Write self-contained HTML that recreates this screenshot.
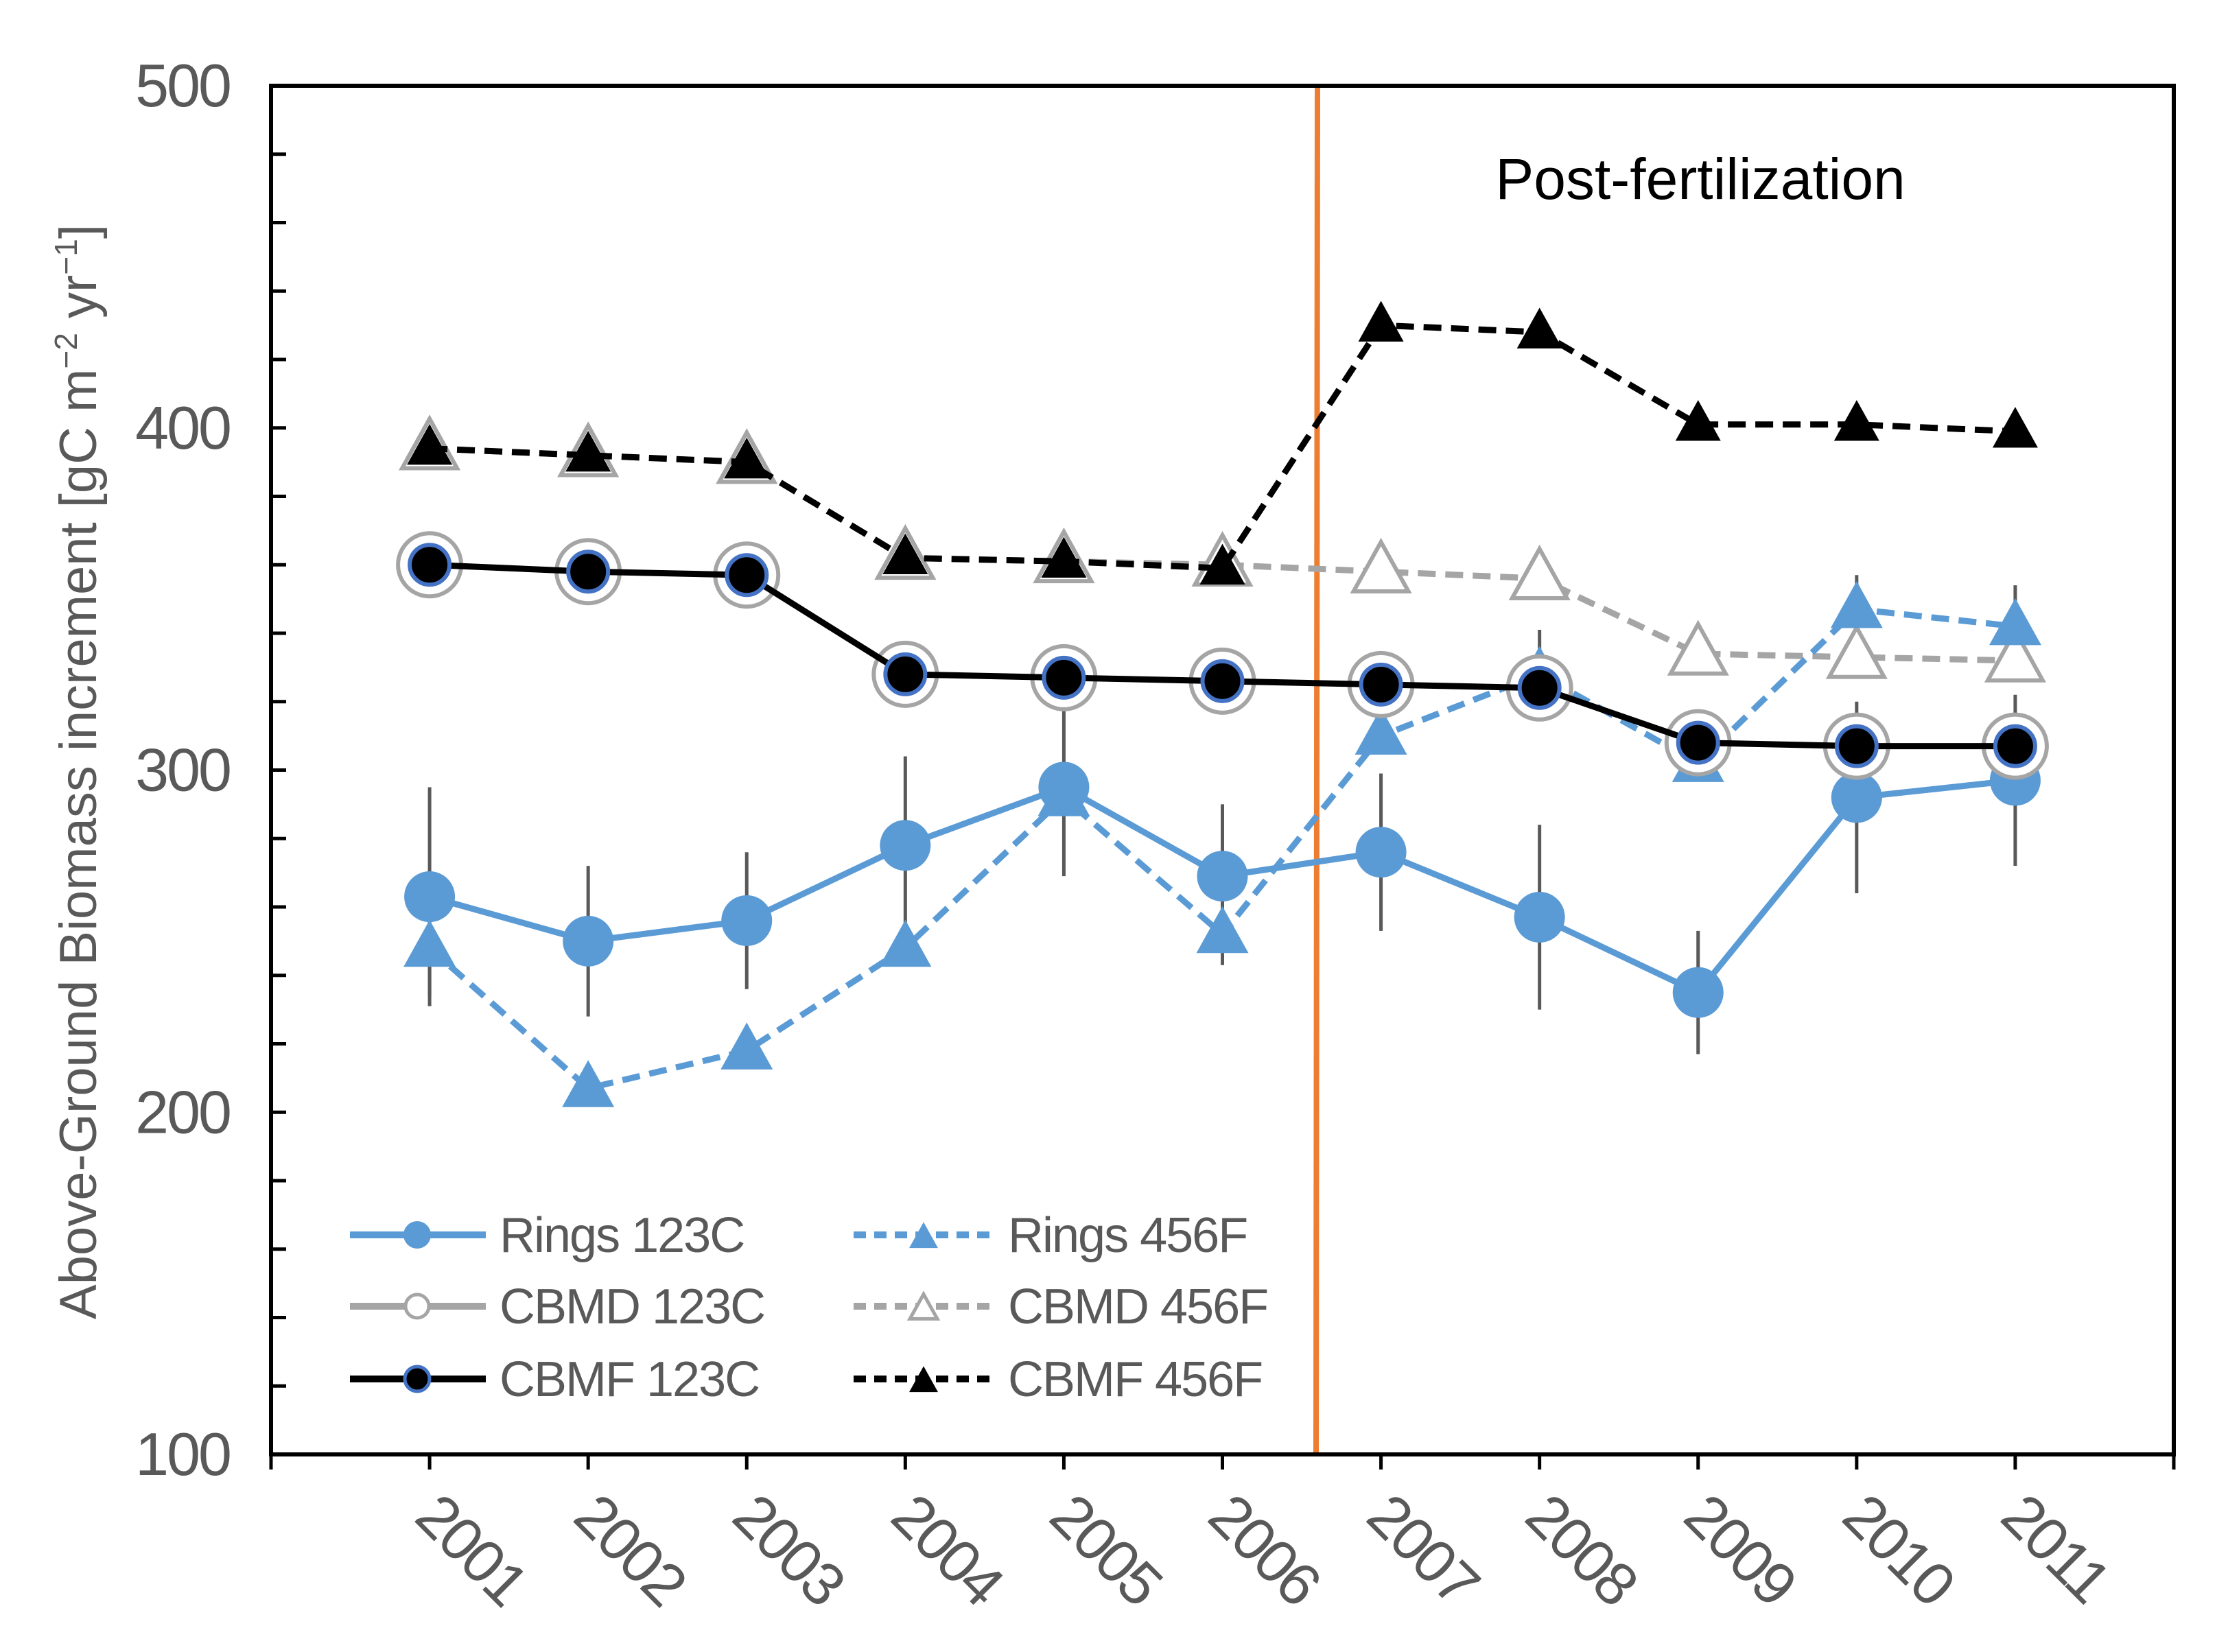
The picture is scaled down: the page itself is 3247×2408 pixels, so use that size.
<!DOCTYPE html>
<html><head><meta charset="utf-8"><style>
html,body{margin:0;padding:0;background:#fff;}
svg{display:block;font-family:"Liberation Sans",sans-serif;}
</style></head><body>
<svg id="chart" width="3247" height="2408" viewBox="0 0 3247 2408" xmlns="http://www.w3.org/2000/svg">
<g id="marks"></g>
</svg>
<script>
const years = ["2001","2002","2003","2004","2005","2006","2007","2008","2009","2010","2011"];
const rings123C = [263,250,256,278,295,269,276,257,235,292,297];
const rings123CErr = [32,22,20,26,26,21,23,27,18,28,25];
const rings456F = [248,207,218,248,292,252,310,328,302,347,342];
const rings456FErr = [14,0,0,0,0,9,0,13,0,10,12];
const cbmd123C = [360,358,357,328,327,326,325,324,308,307,307];
const cbmd456F = [394,392,390,362,361,360,358,356,334,333,332];
const cbmf123C = [360,358,357,328,327,326,325,324,308,307,307];
const cbmf456F = [394,392,390,362,361,359,430,428,401,401,399];
const yTicks = [100,200,300,400,500];
const legendLabels = ["Rings 123C","Rings 456F","CBMD 123C","CBMD 456F","CBMF 123C","CBMF 456F"];

const NS="http://www.w3.org/2000/svg";
const L=395,R=3168,T=125,B=2120;
const slot=(R-L)/12;
const xs=i=>L+slot*(i+1);
const ys=v=>B-(v-100)/400*(B-T);
const svg=document.getElementById('marks');
function mk(tag,attrs,parent){const e=document.createElementNS(NS,tag);for(const k in attrs)e.setAttribute(k,attrs[k]);(parent||svg).appendChild(e);return e;}
function tri(cx,cy,s){const h=s*0.9;return `${cx},${cy-h*0.6} ${cx-s/2},${cy+h*0.4} ${cx+s/2},${cy+h*0.4}`;}
const BLUE="#5b9bd5",GRAY="#a5a5a5",TXT="#595959";

for(let v=100;v<=500;v+=20){
  const t=mk('line',{x1:L,x2:L+22,y1:ys(v),y2:ys(v),stroke:'#000','stroke-width':5});
  
  
}
yTicks.forEach(v=>{
  const t=mk('text',{x:L-60,y:ys(v)+30,'text-anchor':'end','font-size':88,fill:TXT,'letter-spacing':'-3'});
  t.textContent=v;
  
  
});
for(let i=0;i<=12;i++){
  const x=L+slot*i;
  const t=mk('line',{x1:x,x2:x,y1:B,y2:B+22,stroke:'#000','stroke-width':5});
  
  
}
years.forEach((y,i)=>{
  const t=mk('text',{x:0,y:0,'font-size':88,fill:TXT,'letter-spacing':'-3',transform:`translate(${xs(i)-25},${B+95}) rotate(45)`});
  t.textContent=y;
  
  
});
const at=mk('text',{x:0,y:0,'font-size':76,fill:TXT,'text-anchor':'middle',transform:`translate(140,1125) rotate(-90)`});
at.innerHTML='Above-Ground Biomass increment  [gC m<tspan font-size="46" dy="-28">−2</tspan><tspan dy="28"> yr</tspan><tspan font-size="46" dy="-28">−1</tspan><tspan dy="28">]</tspan>';



const ol=mk('line',{x1:1920,x2:1918,y1:T,y2:B,stroke:'#ed7d31','stroke-width':8});


const pf=mk('text',{x:2478,y:290,'text-anchor':'middle','font-size':84,fill:'#000'});
pf.textContent='Post-fertilization';



function pts(arr){return arr.map((v,i)=>`${xs(i)},${ys(v)}`).join(' ');}
rings123C.forEach((v,i)=>{
  if(!rings123CErr[i])return;
  const e=mk('line',{x1:xs(i),x2:xs(i),y1:ys(v+rings123CErr[i]),y2:ys(v-rings123CErr[i]),stroke:'#595959','stroke-width':5});
  
  
});
rings456F.forEach((v,i)=>{
  if(!rings456FErr[i])return;
  const e=mk('line',{x1:xs(i),x2:xs(i),y1:ys(v+rings456FErr[i]),y2:ys(v-rings456FErr[i]),stroke:'#595959','stroke-width':5});
  
  
});

let p=mk('polyline',{points:pts(cbmd456F),fill:'none',stroke:GRAY,'stroke-width':9,'stroke-dasharray':'26,14'});


cbmd456F.forEach((v,i)=>{const m=mk('polygon',{points:tri(xs(i),ys(v),80),fill:'#fff',stroke:GRAY,'stroke-width':6});

});
p=mk('polyline',{points:pts(cbmf456F),fill:'none',stroke:'#000','stroke-width':9,'stroke-dasharray':'26,14'});


cbmf456F.forEach((v,i)=>{const m=mk('polygon',{points:tri(xs(i),ys(v),66),fill:'#000'});

});
p=mk('polyline',{points:pts(rings456F),fill:'none',stroke:BLUE,'stroke-width':9,'stroke-dasharray':'26,14'});


rings456F.forEach((v,i)=>{const m=mk('polygon',{points:tri(xs(i),ys(v),76),fill:BLUE});

});
p=mk('polyline',{points:pts(rings123C),fill:'none',stroke:BLUE,'stroke-width':9});


rings123C.forEach((v,i)=>{const m=mk('circle',{cx:xs(i),cy:ys(v),r:37,fill:BLUE});

});
cbmd123C.forEach((v,i)=>{const m=mk('circle',{cx:xs(i),cy:ys(v),r:46,fill:'#fff',stroke:GRAY,'stroke-width':6});

});
p=mk('polyline',{points:pts(cbmf123C),fill:'none',stroke:'#000','stroke-width':9});


cbmf123C.forEach((v,i)=>{const m=mk('circle',{cx:xs(i),cy:ys(v),r:29,fill:'#000',stroke:'#4472c4','stroke-width':6});

});

const fr=mk('rect',{x:L,y:T,width:R-L,height:B-T,fill:'none',stroke:'#000','stroke-width':6});



const legRows=[1800,1904,2010];
const legCols=[[510,708,608,728],[1244,1446,1346,1469]];
const styles=[
 {c:BLUE,dash:null,m:'circle',fill:BLUE},
 {c:BLUE,dash:'18,12',m:'tri',fill:BLUE},
 {c:GRAY,dash:null,m:'ring',fill:'#fff'},
 {c:GRAY,dash:'18,12',m:'otri',fill:'#fff'},
 {c:'#000',dash:null,m:'dot',fill:'#000'},
 {c:'#000',dash:'18,12',m:'tri',fill:'#000'}];
legendLabels.forEach((lab,k)=>{
  const row=Math.floor(k/2),col=k%2;const [x1,x2,mx,tx]=legCols[col];const y=legRows[row];const s=styles[k];
  const g=mk('g',{});
  
  
  const a={x1,x2,y1:y,y2:y,stroke:s.c,'stroke-width':10};if(s.dash)a['stroke-dasharray']=s.dash;
  mk('line',a,g);
  if(s.m==='circle')mk('circle',{cx:mx,cy:y,r:20,fill:BLUE},g);
  if(s.m==='ring')mk('circle',{cx:mx,cy:y,r:17,fill:'#fff',stroke:GRAY,'stroke-width':5},g);
  if(s.m==='dot')mk('circle',{cx:mx,cy:y,r:18,fill:'#000',stroke:'#4472c4','stroke-width':5},g);
  if(s.m==='tri')mk('polygon',{points:tri(mx,y+4,42),fill:s.fill},g);
  if(s.m==='otri')mk('polygon',{points:tri(mx,y+4,40),fill:'#fff',stroke:GRAY,'stroke-width':5},g);
  const t=mk('text',{x:tx,y:y+25,'font-size':72,fill:TXT,'letter-spacing':'-2'},g);t.textContent=lab;
});
</script>
</body></html>
